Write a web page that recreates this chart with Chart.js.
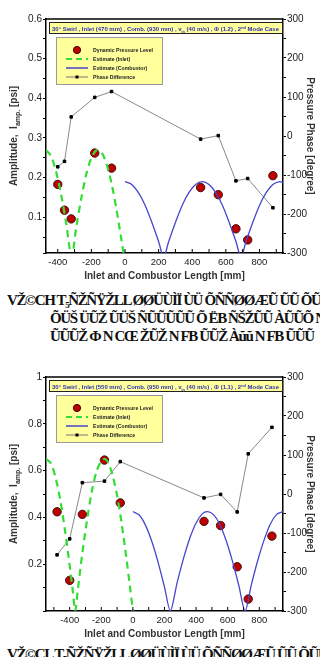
<!DOCTYPE html>
<html>
<head>
<meta charset="utf-8">
<script src="https://cdn.jsdelivr.net/npm/chart.js@4.4.1/dist/chart.umd.min.js"></script>
<style>
html, body { margin: 0; padding: 0; background: #fff; width: 320px; height: 657px; overflow: hidden; }
.box { position: absolute; left: 0; width: 320px; height: 285px; }
#b1 { top: 0; }
#b2 { top: 358px; }
.cap { position: absolute; left: 0; width: 320px; font-family: "Liberation Serif", serif; font-weight: bold; font-size: 15px; line-height: 18px;
       color: #111; white-space: nowrap; overflow: hidden; letter-spacing: -1.4px; }
.cap div { padding-left: 7px; }
.cap div.in { padding-left: 50px; }
</style>
</head>
<body>
<div class="box" id="b1"><canvas id="chart1"></canvas></div>
<div class="cap" style="top:291px">
  <div>VŽ©CH T₅ÑŽÑŸŽLL ØØÜÙÌÏ ÙÜ ÕÑÑØØÆŨ ŨŨ ÕŨŨ ØŠÕŨŨ ŨŨŨŨŨŨŨŨ</div>
  <div class="in">ÕÜŠ ÜŨŽ ŨÜŠ ÑŨŨŨŨŨ Õ ËB ÑŠŽŨŨ ÀŨŨÕ N KEL</div>
  <div class="in">ŨŨŨŽ Φ N CŒ ŽŨŽ N FB ŨŨŽ Àŭŭ N FB ŨŨŨ</div>
</div>
<div class="box" id="b2"><canvas id="chart2"></canvas></div>
<div class="cap" style="top:645px">
  <div>VŽ©CL T₅ÑŽÑŸŽLL ØØÜÙÌÏ ÙÜ ÕÑÑØØÆŨ ŨŨ ÕŨŨ ØŠÕŨŨ ŨŨŨŨŨŨŨŨ</div>
</div>
<script>
// tick labels
const xLabels = [-400, -200, 0, 200, 400, 600, 800];
const yLabels1 = ['0.1', '0.2', '0.3', '0.4', '0.5', '0.6'];
const yLabels2 = ['0.2', '0.4', '0.6', '0.8', '1'];
const phaseLabels = [-300, -200, -100, 0, 100, 200, 300];

// chart 1 : inlet 470 mm, comb. 930 mm
const x1Press = [-400, -360, -320, -180, -80, 450, 555, 660, 730, 880];
const amp1Press = [0.183, 0.118, 0.096, 0.262, 0.224, 0.175, 0.157, 0.071, 0.043, 0.205];
const phase1 = [-79, -65, 49, 99, 114, -8, 1, -115, -109, -184];
const x1Inlet = [-470, -440, -410, -380, -350, -318, -290, -260, -230, -200, -170, -140, -110, -80, -50, -20, -5];
const amp1Inlet = [0.270, 0.254, 0.215, 0.157, 0.085, 0.000, 0.075, 0.148, 0.209, 0.250, 0.269, 0.264, 0.235, 0.185, 0.118, 0.040, 0.000];
const x1Comb = [0, 40, 80, 120, 160, 200, 230, 260, 300, 340, 380, 420, 460, 500, 540, 580, 620, 660, 690, 720, 760, 800, 840, 880, 920, 940];
const amp1Comb = [0.190, 0.183, 0.162, 0.130, 0.087, 0.039, 0.000, 0.039, 0.087, 0.130, 0.162, 0.183, 0.190, 0.183, 0.162, 0.130, 0.087, 0.039, 0.000, 0.039, 0.087, 0.130, 0.162, 0.183, 0.190, 0.188];

// chart 2 : inlet 550 mm, comb. 950 mm
const x2Press = [-480, -400, -320, -180, -80, 450, 555, 660, 730, 880];
const amp2Press = [0.424, 0.131, 0.413, 0.645, 0.462, 0.383, 0.365, 0.189, 0.051, 0.320];
const phase2 = [-156, -115, 29, 33, 83, -10, -1, -46, 103, 171];
const x2Inlet = [-550, -520, -490, -460, -430, -400, -380, -365, -350, -320, -290, -260, -230, -200, -180, -160, -130, -100, -70, -40, -20, 0];
const amp2Inlet = [0.650, 0.632, 0.572, 0.475, 0.345, 0.193, 0.083, 0.000, 0.083, 0.247, 0.390, 0.511, 0.597, 0.643, 0.650, 0.638, 0.584, 0.493, 0.368, 0.219, 0.112, 0.000];
const x2Comb = [0, 40, 80, 120, 160, 200, 237, 280, 320, 360, 400, 440, 473, 510, 550, 590, 630, 670, 710, 750, 790, 830, 870, 910, 950];
const amp2Comb = [0.425, 0.410, 0.366, 0.297, 0.207, 0.102, 0.000, 0.121, 0.224, 0.311, 0.376, 0.416, 0.425, 0.412, 0.371, 0.301, 0.213, 0.110, 0.000, 0.113, 0.216, 0.303, 0.372, 0.413, 0.425];

const FONT = '"Liberation Sans", Arial, sans-serif';
const pts = (xs, ys) => xs.map((x, i) => ({ x: x, y: ys[i] }));

function measureRich(ctx, segs, size) {
    let w = 0;
    segs.forEach(([t, s = 1]) => { ctx.font = 'bold ' + (size * s) + 'px ' + FONT; w += ctx.measureText(t).width; });
    return w;
}
function drawRich(ctx, segs, x, y, size, color, center) {
    let cx = center ? x - measureRich(ctx, segs, size) / 2 : x;
    ctx.fillStyle = color;
    ctx.textAlign = 'left';
    ctx.textBaseline = 'alphabetic';
    segs.forEach(([t, s = 1, dy = 0]) => {
        ctx.font = 'bold ' + (size * s) + 'px ' + FONT;
        ctx.fillText(t, cx, y + dy);
        cx += ctx.measureText(t).width;
    });
}

const deco = {
    id: 'deco',
    afterDraw(chart, args, o) {
        const { ctx, chartArea: a, scales } = chart;
        ctx.save();
        // top frame line
        ctx.strokeStyle = '#000';
        ctx.lineWidth = 1.5;
        ctx.beginPath(); ctx.moveTo(a.left, a.top); ctx.lineTo(a.right, a.top); ctx.stroke();
        // inward ticks on the x axis
        ctx.lineWidth = 1;
        scales.x.ticks.forEach(t => {
            const px = scales.x.getPixelForValue(t.value);
            ctx.beginPath(); ctx.moveTo(px, a.bottom); ctx.lineTo(px, a.bottom - 4); ctx.stroke();
        });

        // case box at the top
        ctx.fillStyle = '#ffff9c';
        ctx.fillRect(a.left + 3, a.top + 3, a.right - a.left - 3, 12);
        ctx.strokeStyle = '#222';
        ctx.lineWidth = 1;
        ctx.strokeRect(a.left + 3.5, a.top + 3.5, a.right - a.left - 4, 11);
        const w = measureRich(ctx, o.title, 6);
        ctx.translate(a.left + 6, a.top + 12);
        ctx.scale((a.right - a.left - 10) / w, 1);
        drawRich(ctx, o.title, 0, 0, 6, '#3030b0', false);
        ctx.setTransform(1, 0, 0, 1, 0, 0);

        // legend box
        const lx = a.left + 10, ly = a.top + 18;
        ctx.fillStyle = '#ffff9c';
        ctx.fillRect(lx, ly, 107, 48);
        ctx.strokeStyle = '#999';
        ctx.strokeRect(lx + 0.5, ly + 0.5, 106, 47);
        const sx = lx + 10, ex = lx + 32, cx = lx + 21;
        ctx.fillStyle = '#c00000'; ctx.strokeStyle = '#400';
        ctx.beginPath(); ctx.arc(cx, ly + 13, 3.6, 0, Math.PI * 2); ctx.fill(); ctx.stroke();
        ctx.strokeStyle = '#33dd33'; ctx.lineWidth = 2; ctx.setLineDash([6, 4]);
        ctx.beginPath(); ctx.moveTo(sx, ly + 22); ctx.lineTo(ex, ly + 22); ctx.stroke();
        ctx.setLineDash([]);
        ctx.strokeStyle = '#4444cc'; ctx.lineWidth = 1.5;
        ctx.beginPath(); ctx.moveTo(sx, ly + 31); ctx.lineTo(ex, ly + 31); ctx.stroke();
        ctx.strokeStyle = '#777'; ctx.lineWidth = 1;
        ctx.beginPath(); ctx.moveTo(sx, ly + 40); ctx.lineTo(ex, ly + 40); ctx.stroke();
        ctx.fillStyle = '#000'; ctx.fillRect(cx - 1.5, ly + 38.5, 3, 3);
        const names = ['Dynamic Pressure Level', 'Estimate (Inlet)', 'Estimate (Combustor)', 'Phase Difference'];
        names.forEach((n, i) => drawRich(ctx, [[n]], lx + 37, ly + 15 + i * 9, 5.2, '#222', false));

        // left axis title with subscript
        ctx.translate(17, (a.top + a.bottom) / 2);
        ctx.rotate(-Math.PI / 2);
        drawRich(ctx, [['Amplitude,  I'], ['amp.', 0.7, 2.5], [' [psi]']], 0, 0, 10, '#333', true);
        ctx.restore();
    }
};

function makeChart(id, o) {
    return new Chart(document.getElementById(id), {
        type: 'line',
        data: {
            datasets: [{
                label: 'Estimate (Inlet)',
                data: pts(o.xInlet, o.ampInlet),
                borderColor: '#33dd33',
                borderWidth: 2.2,
                borderDash: [7, 5],
                pointRadius: 0,
                tension: 0.3,
                yAxisID: 'y'
            }, {
                label: 'Estimate (Combustor)',
                data: pts(o.xComb, o.ampComb),
                borderColor: '#4646cc',
                borderWidth: 1.3,
                pointRadius: 0,
                tension: 0.3,
                yAxisID: 'y'
            }, {
                label: 'Dynamic Pressure Level',
                data: pts(o.xPress, o.ampPress),
                showLine: false,
                pointRadius: 4.2,
                backgroundColor: '#c00000',
                borderColor: '#401010',
                borderWidth: 1,
                yAxisID: 'y'
            }, {
                label: 'Phase Difference',
                data: pts(o.xPress, o.phase),
                borderColor: '#888',
                borderWidth: 1,
                pointStyle: 'rect',
                pointRadius: 1.8,
                pointBackgroundColor: '#000',
                pointBorderColor: '#000',
                yAxisID: 'y2'
            }]
        },
        options: {
            responsive: true,
            maintainAspectRatio: false,
            animation: false,
            layout: { padding: { top: 19, left: 0, right: 0, bottom: 0 } },
            plugins: {
                legend: { display: false },
                tooltip: { enabled: false },
                deco: { title: o.title }
            },
            scales: {
                x: {
                    type: 'linear',
                    min: o.xMin,
                    max: o.xMax,
                    // one tick every 100 mm, labels every 200 mm
                    afterBuildTicks: s => {
                        const t = [];
                        for (let v = Math.ceil(s.min / 100) * 100; v <= s.max; v += 100) t.push({ value: v });
                        s.ticks = t;
                    },
                    afterFit: s => { s.height = 32; },
                    grid: { drawOnChartArea: false, drawTicks: false },
                    border: { color: '#000', width: 1.5 },
                    ticks: {
                        autoSkip: false, maxRotation: 0, padding: 4,
                        color: '#222', font: { family: FONT, size: 9.5 },
                        callback: v => xLabels.includes(v) ? String(v) : ''
                    },
                    title: {
                        display: true, text: 'Inlet and Combustor Length [mm]', color: '#333',
                        font: { family: FONT, size: 10, weight: 'bold' }, padding: { top: 0, bottom: 3 }
                    }
                },
                y: {
                    position: 'left',
                    min: o.yMin,
                    max: o.yMax,
                    afterFit: s => { s.width = 46; },
                    grid: { drawOnChartArea: false, tickLength: 3, color: '#000' },
                    border: { color: '#000', width: 1.5 },
                    ticks: {
                        stepSize: o.yStep, autoSkip: false, padding: 1,
                        color: '#222', font: { family: FONT, size: 10 },
                        callback: v => o.yLabels.find(l => Math.abs(parseFloat(l) - v) < 1e-6) || ''
                    }
                },
                y2: {
                    position: 'right',
                    min: -300,
                    max: 300,
                    afterFit: s => { s.width = 37; },
                    grid: { drawOnChartArea: false, tickLength: 3, color: '#000' },
                    border: { color: '#000', width: 1.5 },
                    ticks: {
                        stepSize: 50, autoSkip: false, padding: 1,
                        color: '#222', font: { family: FONT, size: 10 },
                        callback: v => phaseLabels.includes(v) ? String(v) : ''
                    },
                    title: {
                        display: true, text: 'Pressure Phase [degree]', color: '#333',
                        font: { family: FONT, size: 10, weight: 'bold' }, padding: { top: 4, bottom: 0 }
                    }
                }
            }
        },
        plugins: [deco]
    });
}

makeChart('chart1', {
    xPress: x1Press, ampPress: amp1Press, phase: phase1,
    xInlet: x1Inlet, ampInlet: amp1Inlet, xComb: x1Comb, ampComb: amp1Comb,
    xMin: -470, xMax: 940, yMin: 0.01, yMax: 0.6, yStep: 0.05, yLabels: yLabels1,
    title: [['30° Swirl , Inlet (470 mm) , Comb. (930 mm) , v'], ['in', 0.65, 1.5], [' (40 m/s) , Φ (1.2) , 2'], ['nd', 0.65, -2], [' Mode Case']]
});

makeChart('chart2', {
    xPress: x2Press, ampPress: amp2Press, phase: phase2,
    xInlet: x2Inlet, ampInlet: amp2Inlet, xComb: x2Comb, ampComb: amp2Comb,
    xMin: -550, xMax: 950, yMin: 0, yMax: 1, yStep: 0.1, yLabels: yLabels2,
    title: [['30° Swirl , Inlet (550 mm) , Comb. (950 mm) , v'], ['in', 0.65, 1.5], [' (40 m/s) , Φ (1.1) , 2'], ['nd', 0.65, -2], [' Mode Case']]
});
</script>
</body>
</html>
